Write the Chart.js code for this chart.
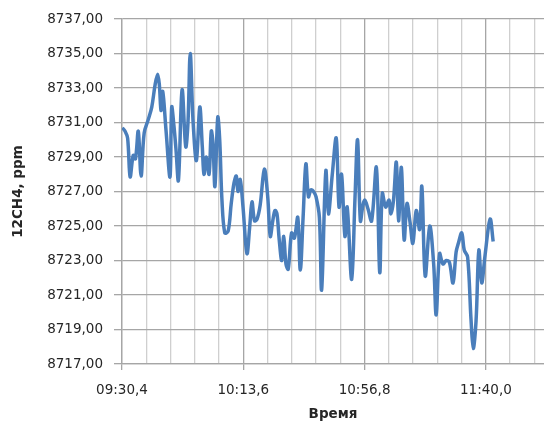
<!DOCTYPE html>
<html>
<head>
<meta charset="utf-8">
<script src="https://cdn.jsdelivr.net/npm/chart.js@4/dist/chart.umd.min.js"></script>
<style>
  html, body { margin: 0; padding: 0; background: #fff; }
  #box { width: 544px; height: 427px; }
</style>
</head>
<body>
<div id="box"><canvas id="graph"></canvas></div>
<script>
// time in seconds (mm:ss,0 on the axis), methane values in ppm
const times = [
  570.5, 571.5, 572.4, 573.3, 574.4, 575.2, 576.2, 577.2, 578.3, 579.8,
  581.0, 582.2, 583.1, 583.7, 584.3, 584.9, 586.1, 587.5, 588.1, 588.9,
  589.6, 590.5, 591.8, 593.1, 593.9, 594.7, 595.7, 596.9, 598.1, 599.0,
  599.6, 600.4, 601.4, 602.2, 602.8, 603.5, 604.5, 605.2, 606.0, 607.0,
  608.2, 609.3, 610.3, 611.1, 611.7, 612.5, 613.5, 614.9, 615.9, 616.7,
  617.6, 618.5, 619.6, 621.1, 622.3, 623.2, 624.1, 624.9, 625.6, 626.4,
  627.3, 628.0, 628.8, 629.6, 630.8, 631.8, 633.0, 633.9, 634.9, 635.9,
  636.8, 637.7, 638.6, 639.5, 640.7, 641.5, 643.0, 643.9, 645.3, 646.7,
  647.7, 648.6, 649.8, 650.6, 652.2, 653.4, 654.3, 655.3, 656.2, 656.9,
  658.0, 659.3, 661.0, 662.2, 663.1, 664.3, 665.5, 666.2, 667.1, 668.1,
  668.9, 669.9, 670.9, 671.9, 673.0, 674.0, 675.2, 676.4, 677.2, 678.4,
  680.0, 681.4, 682.3, 683.5, 684.7, 685.9, 687.0, 688.3, 689.4, 690.2,
  691.4, 692.3, 693.5, 694.7, 695.5, 696.5, 697.5, 698.5, 699.7, 701.5,
  702.6
];
const ch4 = [
  8730.7, 8730.5, 8730.1, 8727.85, 8729.1, 8728.9, 8730.5, 8727.9, 8730.4, 8731.2,
  8731.9, 8733.2, 8733.8, 8733.2, 8731.7, 8732.8, 8730.5, 8727.85, 8731.9, 8730.8,
  8729.5, 8727.65, 8732.9, 8729.6, 8731.0, 8735.0, 8731.1, 8728.8, 8731.9, 8729.6,
  8728.0, 8729.0, 8728.0, 8730.5, 8729.8, 8727.3, 8731.3, 8730.0, 8726.5, 8724.6,
  8724.7, 8726.3, 8727.5, 8727.9, 8727.0, 8727.7, 8726.1, 8723.4, 8725.0, 8726.4,
  8725.3, 8725.4, 8726.2, 8728.3, 8726.7, 8724.4, 8725.3, 8725.9, 8725.7, 8724.2,
  8723.0, 8724.4, 8722.8, 8722.5, 8724.6, 8724.3, 8725.5, 8722.45, 8725.5, 8728.6,
  8726.7, 8727.1, 8727.0, 8726.7, 8725.5, 8721.3, 8728.2, 8725.7, 8728.0, 8730.1,
  8726.1, 8728.0, 8724.4, 8726.1, 8721.9, 8726.7, 8730.0, 8725.3, 8726.2, 8726.5,
  8726.0, 8725.3, 8728.4, 8722.3, 8726.9, 8726.1, 8726.5, 8725.7, 8726.5, 8728.7,
  8725.3, 8728.4, 8724.2, 8726.3, 8725.2, 8724.0, 8725.9, 8724.8, 8727.3, 8722.1,
  8725.0, 8722.8, 8719.85, 8723.4, 8722.8, 8723.0, 8722.9, 8721.7, 8723.5, 8724.0,
  8724.6, 8723.6, 8723.2, 8719.6, 8717.9, 8719.5, 8723.6, 8721.7, 8723.3, 8725.4,
  8724.1
];

// axis ticks
const majorTicks = [570.4, 613.6, 656.8, 700.0];
const timeLabels = ["09:30,4", "10:13,6", "10:56,8", "11:40,0"];
const yTicks = [8717, 8719, 8721, 8723, 8725, 8727, 8729, 8731, 8733, 8735, 8737];

const minorStep = (majorTicks[1] - majorTicks[0]) / 5;
const xMin = majorTicks[0];
const xMax = 720.7;

const points = times.map((t, i) => ({ x: t, y: ch4[i] }));

function isMajor(v) {
  return majorTicks.findIndex(m => Math.abs(m - v) < 0.01);
}

const config = {
  type: "line",
  data: {
    datasets: [{
      data: points,
      borderColor: "#4a7ebb",
      borderWidth: 3.5,
      pointRadius: 0,
      tension: 0.35,
      fill: false
    }]
  },
  options: {
    responsive: true,
    maintainAspectRatio: false,
    animation: false,
    layout: { padding: { left: 10, top: 18, right: 0, bottom: 3 } },
    plugins: {
      legend: { display: false },
      tooltip: { enabled: false }
    },
    scales: {
      x: {
        type: "linear",
        min: xMin,
        max: xMax,
        afterBuildTicks: (scale) => {
          const list = [];
          for (let v = xMin; v <= xMax + 0.001; v += minorStep) {
            list.push({ value: Math.round(v * 100) / 100 });
          }
          scale.ticks = list;
        },
        afterFit: (scale) => {
          scale.height = 60;
          scale.paddingRight = 0;
          scale.paddingLeft = 0;
        },
        ticks: {
          autoSkip: false,
          maxRotation: 0,
          padding: 12,
          color: "#262626",
          font: { family: "DejaVu Sans", size: 13.5 },
          callback: (v) => {
            const k = isMajor(v);
            return k >= 0 ? timeLabels[k] : "";
          }
        },
        grid: {
          drawTicks: true,
          tickLength: 6,
          lineWidth: 1.3,
          color: (ctx) => isMajor(ctx.tick.value) >= 0 ? "#a6a6a6" : "#cfcfcf",
          tickColor: (ctx) => isMajor(ctx.tick.value) >= 0 ? "#a6a6a6" : "rgba(0,0,0,0)"
        },
        border: { color: "#a6a6a6", width: 1.3 },
        title: {
          display: true,
          text: "Время",
          color: "#262626",
          font: { family: "DejaVu Sans", size: 13.5, weight: "bold" },
          padding: { top: 4, bottom: 1 }
        }
      },
      y: {
        min: yTicks[0],
        max: yTicks[yTicks.length - 1],
        afterBuildTicks: (scale) => {
          scale.ticks = yTicks.map(v => ({ value: v }));
        },
        afterFit: (scale) => {
          scale.width = 112;
        },
        ticks: {
          padding: 11,
          color: "#262626",
          font: { family: "DejaVu Sans", size: 13.5 },
          callback: (v) => v.toFixed(2).replace(".", ",")
        },
        grid: {
          tickLength: 8,
          lineWidth: 1.3,
          color: "#a6a6a6",
          tickColor: "#a6a6a6"
        },
        border: { color: "#a6a6a6", width: 1.3 },
        title: {
          display: true,
          text: "12CH4, ppm",
          color: "#262626",
          font: { family: "DejaVu Sans", size: 13.5, weight: "bold" },
          padding: { top: 0, bottom: 12 }
        }
      }
    }
  }
};

const contexte = document.querySelector("#graph").getContext("2d");
new Chart(contexte, config);
</script>
</body>
</html>
